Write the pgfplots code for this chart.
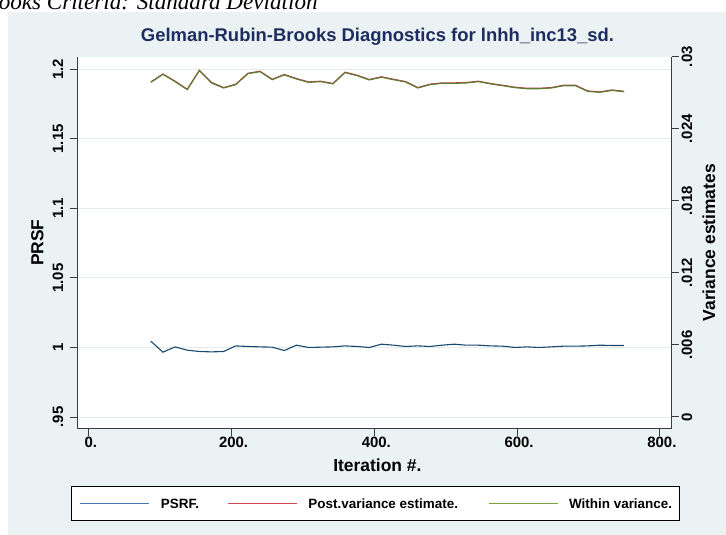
\documentclass[border=0pt]{standalone}
\usepackage{fontspec}
\setmainfont{Liberation Sans}
\newfontfamily\serifit{Liberation Serif}
\usepackage{pgfplots}
\usepackage{pgfplotstable}
\pgfplotsset{compat=1.18}
\definecolor{bgblue}{RGB}{234,242,243}
\definecolor{gridc}{RGB}{228,236,238}
\definecolor{navyt}{RGB}{30,45,95}
\definecolor{stnavy}{RGB}{26,71,111}
\definecolor{stmaroon}{RGB}{175,60,70}
\definecolor{stgreen}{RGB}{95,125,50}
\definecolor{lgnavy}{RGB}{70,120,175}
\definecolor{lgred}{RGB}{215,70,80}
\definecolor{lggreen}{RGB}{115,165,60}
\definecolor{axisc}{RGB}{60,60,60}

\pgfplotstableread{
iter psrf post within
87  1.00453 0.02790 0.02786
104 0.99662 0.02856 0.02853
121 1.00043 0.02796 0.02792
138 0.99806 0.02729 0.02725
155 0.99712 0.02887 0.02883
172 0.99683 0.02786 0.02781
189 0.99712 0.02743 0.02739
206 1.00115 0.02771 0.02767
223 1.00072 0.02862 0.02858
240 1.00043 0.02879 0.02875
257 1.00022 0.02812 0.02808
274 0.99784 0.02852 0.02848
291 1.00165 0.02818 0.02814
308 1.00000 0.02790 0.02786
325 1.00022 0.02796 0.02792
342 1.00043 0.02777 0.02773
359 1.00115 0.02871 0.02867
376 1.00072 0.02846 0.02842
393 1.00000 0.02810 0.02806
410 1.00237 0.02833 0.02829
427 1.00165 0.02812 0.02808
444 1.00072 0.02793 0.02789
461 1.00115 0.02743 0.02739
478 1.00072 0.02771 0.02767
495 1.00165 0.02782 0.02778
512 1.00237 0.02782 0.02778
529 1.00165 0.02785 0.02781
546 1.00165 0.02796 0.02792
563 1.00115 0.02777 0.02773
580 1.00094 0.02762 0.02758
597 1.00000 0.02746 0.02742
614 1.00043 0.02737 0.02733
631 1.00000 0.02737 0.02733
648 1.00043 0.02743 0.02739
665 1.00094 0.02762 0.02758
682 1.00094 0.02762 0.02758
699 1.00115 0.02715 0.02711
716 1.00165 0.02707 0.02703
733 1.00144 0.02723 0.02719
750 1.00144 0.02712 0.02708
}\grb

\pgfplotsset{
  grbcommon/.style={
    at={(77bp,106.3bp)}, anchor=south west,
    scale only axis, width=594.7bp, height=372bp,
    xmin=-16.4, xmax=816.7,
    axis line style={draw=axisc, line width=1bp},
    every tick/.style={draw=axisc, line width=1bp},
    tick align=outside, major tick length=7.5bp,
    tick label style={font=\fontsize{15}{15}\selectfont\bfseries, inner sep=0pt},
    scaled ticks=false,
  }
}

\begin{document}
\begin{tikzpicture}[x=1bp,y=1bp]
\useasboundingbox (0,0) rectangle (726,535);
\clip (0,0) rectangle (726,535);
\fill[white] (0,0) rectangle (726,535);
\node[anchor=base west, inner sep=0pt, font=\serifit\itshape\fontsize{23.2}{24}\selectfont] at (-23.7,525.3) {Brooks Criteria: Standard Deviation};
\fill[bgblue] (7.5,0) rectangle (726,522.5);

\begin{axis}[grbcommon,
  axis background/.style={fill=white},
  ymin=0.9416, ymax=1.2091,
  axis x line*=bottom, axis y line*=left,
  xtick={0,200,400,600,800},
  xticklabels={0\rlap{.},200\rlap{.},400\rlap{.},600\rlap{.},800\rlap{.}},
  xticklabel style={yshift=-1bp},
  ytick={0.95,1,1.05,1.1,1.15,1.2},
  yticklabels={.95,1,1.05,1.1,1.15,1.2},
  yticklabel style={xshift=-6.3bp, rotate=90, anchor=base},
  ymajorgrids, major grid style={draw=gridc, line width=1bp},
  title={Gelman-Rubin-Brooks Diagnostics for lnhh\_inc13\_sd\rlap{.}},
  title style={at={(axis description cs:0.501,1.026)}, anchor=base, inner sep=0pt,
    font=\fontsize{18.5}{19}\selectfont\bfseries, text=navyt},
  xlabel={Iteration \#\rlap{.}},
  xlabel style={at={(axis description cs:0.501,-0.1164)}, anchor=base, inner sep=0pt,
    font=\fontsize{17.5}{18}\selectfont\bfseries},
  ylabel={PRSF},
  ylabel style={at={(axis description cs:-0.0567,0.5)}, anchor=base, inner sep=0pt,
    font=\fontsize{17.5}{18}\selectfont\bfseries},
]
\addplot[draw=stnavy, line width=1.1bp] table[x=iter, y=psrf] {\grb};
\end{axis}

\begin{axis}[grbcommon,
  ymin=-0.000975, ymax=0.03,
  axis x line=none, axis y line*=right,
  ytick={0,0.006,0.012,0.018,0.024,0.03},
  yticklabels={0,.006,.012,.018,.024,.03},
  yticklabel style={xshift=2.3bp, rotate=90, anchor=north},
  ylabel={Variance estimates},
  ylabel style={at={(axis description cs:1.0728,0.5)}, rotate=0, anchor=base, inner sep=0pt,
    font=\fontsize{17.5}{18}\selectfont\bfseries},
  legend columns=3,
  legend style={at={(axis description cs:-0.0101,-0.154)}, anchor=north west,
    draw=black, line width=1bp, fill=white, inner xsep=8bp, inner ysep=0pt,
    column sep=0pt, font=\fontsize{13.5}{14}\selectfont\bfseries,
    nodes={inner sep=0pt, text height=22bp, text depth=12bp}},
  legend image code/.code={\pgfsetstrokecolor{.}\draw[#1] (0bp,0bp) -- (69bp,0bp);},
]
\addlegendimage{color=lgnavy, draw=lgnavy, line width=1.5bp}
\addlegendentry{\makebox[77bp][l]{\hspace{11bp}PSRF.}}
\addlegendimage{color=lgred, draw=lgred, line width=1.5bp}
\addlegendentry{\makebox[190.6bp][l]{\hspace{11bp}Post.variance estimate.}}
\addlegendimage{color=lggreen, draw=lggreen, line width=1.5bp}
\addlegendentry{\makebox[113bp][l]{\hspace{10.5bp}Within variance.}}
\addplot[draw=stmaroon, line width=1.1bp, forget plot] table[x=iter, y=post] {\grb};
\addplot[draw=stgreen, line width=1.1bp, forget plot] table[x=iter, y=within] {\grb};
\end{axis}
\end{tikzpicture}
\end{document}
